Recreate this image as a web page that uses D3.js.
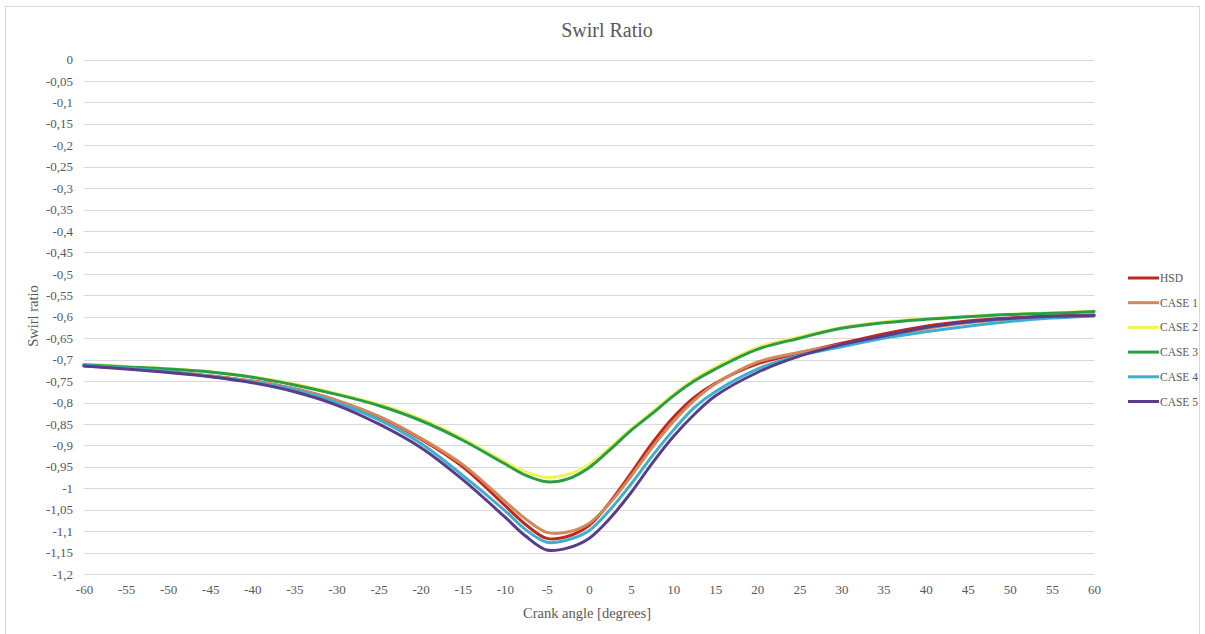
<!DOCTYPE html>
<html>
<head>
<meta charset="utf-8">
<script src="https://cdn.jsdelivr.net/npm/d3@7"></script>
<style>
  html, body { margin: 0; padding: 0; background: #fff; }
  svg { display: block; }
  text { font-family: "Liberation Serif", "DejaVu Serif", serif; fill: #595959; }
</style>
</head>
<body>
<svg id="chart" width="1205" height="634"></svg>
<script>
const angles = [-60,-55,-50,-45,-40,-35,-30,-25,-20,-15,-10,-7.5,-5,-2.5,0,2.5,5,7.5,10,12.5,15,20,25,30,35,40,45,50,55,60];

const seriesNames = ["HSD","CASE 1","CASE 2","CASE 3","CASE 4","CASE 5"];
const seriesColors = ["#c0281e","#d4875a","#f2f25a","#2a9d48","#3eaed0","#5b3c88"];

const hsd   = [-0.714,-0.720,-0.728,-0.738,-0.750,-0.768,-0.795,-0.833,-0.885,-0.950,-1.040,-1.085,-1.117,-1.112,-1.087,-1.032,-0.965,-0.895,-0.835,-0.788,-0.755,-0.710,-0.685,-0.662,-0.640,-0.622,-0.610,-0.603,-0.598,-0.596];
const case1 = [-0.714,-0.720,-0.728,-0.738,-0.750,-0.768,-0.795,-0.832,-0.883,-0.945,-1.030,-1.072,-1.103,-1.102,-1.082,-1.034,-0.972,-0.905,-0.845,-0.795,-0.757,-0.706,-0.683,-0.665,-0.648,-0.628,-0.614,-0.605,-0.600,-0.597];
const case2 = [-0.711,-0.716,-0.721,-0.728,-0.740,-0.757,-0.779,-0.804,-0.838,-0.884,-0.938,-0.962,-0.975,-0.968,-0.945,-0.905,-0.862,-0.822,-0.782,-0.746,-0.718,-0.672,-0.647,-0.625,-0.612,-0.605,-0.599,-0.594,-0.591,-0.587];
const case3 = [-0.712,-0.717,-0.722,-0.729,-0.741,-0.759,-0.781,-0.807,-0.842,-0.888,-0.943,-0.970,-0.985,-0.978,-0.952,-0.910,-0.865,-0.826,-0.785,-0.750,-0.722,-0.676,-0.650,-0.627,-0.614,-0.606,-0.600,-0.595,-0.592,-0.588];
const case4 = [-0.713,-0.720,-0.728,-0.739,-0.752,-0.770,-0.800,-0.840,-0.895,-0.970,-1.052,-1.097,-1.126,-1.120,-1.099,-1.050,-0.990,-0.925,-0.865,-0.812,-0.775,-0.722,-0.690,-0.670,-0.650,-0.635,-0.622,-0.611,-0.603,-0.598];
const case5 = [-0.715,-0.722,-0.730,-0.740,-0.754,-0.775,-0.806,-0.850,-0.905,-0.980,-1.067,-1.112,-1.144,-1.139,-1.117,-1.070,-1.010,-0.942,-0.880,-0.828,-0.785,-0.730,-0.692,-0.665,-0.645,-0.625,-0.612,-0.604,-0.599,-0.597];

const seriesValues = [hsd, case1, case2, case3, case4, case5];

const xTicks = d3.range(-60, 61, 5);
const yTicks = d3.range(0, 25).map(i => -i * 0.05);

const svg = d3.select("#chart");

// outer border
svg.append("rect")
  .attr("x", 5.5).attr("y", 6.5)
  .attr("width", 1194).attr("height", 640)
  .attr("fill", "#fff").attr("stroke", "#d9d9d9").attr("stroke-width", 1);

const x = d3.scaleLinear().domain([-60, 60]).range([84, 1094]);
const y = d3.scaleLinear().domain([0, -1.2]).range([59.5, 574]);

const fmt = v => {
  const r = Math.round(v * 100) / 100;
  return (r === 0 ? "0" : String(r)).replace(".", ",");
};

// gridlines
svg.append("g")
  .selectAll("line")
  .data(yTicks)
  .join("line")
  .attr("x1", x(-60)).attr("x2", x(60))
  .attr("y1", d => Math.round(y(d)) + 0.5)
  .attr("y2", d => Math.round(y(d)) + 0.5)
  .attr("stroke", "#d9d9d9").attr("stroke-width", 1);

// y axis
const yAxis = d3.axisLeft(y).tickValues(yTicks).tickFormat(fmt).tickSize(0).tickPadding(11);
const gy = svg.append("g").attr("transform", `translate(${x(-60)},0)`).call(yAxis);
gy.select(".domain").remove();
gy.selectAll("text").style("font-size", "13px").attr("fill", "#595959")
  .style("font-family", "'Liberation Serif', serif");

// x axis
const xAxis = d3.axisBottom(x).tickValues(xTicks).tickFormat(d => String(d)).tickSize(0).tickPadding(11);
const gx = svg.append("g").attr("transform", `translate(0,${y(-1.2)})`).call(xAxis);
gx.select(".domain").remove();
gx.selectAll("text").style("font-size", "13px").attr("fill", "#595959")
  .style("font-family", "'Liberation Serif', serif");

// lines
const line = d3.line()
  .x((d, i) => x(angles[i]))
  .y(d => y(d))
  .curve(d3.curveCatmullRom.alpha(0.5));

svg.append("g")
  .selectAll("path")
  .data(seriesValues)
  .join("path")
  .attr("d", d => line(d))
  .attr("fill", "none")
  .attr("stroke", (d, i) => seriesColors[i])
  .attr("stroke-width", 3)
  .attr("stroke-linejoin", "round")
  .attr("stroke-linecap", "round");

// title
svg.append("text")
  .attr("x", 607).attr("y", 37)
  .attr("text-anchor", "middle")
  .style("font-size", "20px")
  .text("Swirl Ratio");

// axis titles
svg.append("text")
  .attr("x", 587).attr("y", 618)
  .attr("text-anchor", "middle")
  .style("font-size", "14.5px")
  .text("Crank angle [degrees]");

svg.append("text")
  .attr("transform", "translate(38,316) rotate(-90)")
  .attr("text-anchor", "middle")
  .style("font-size", "14.5px")
  .text("Swirl ratio");

// legend
const legend = svg.append("g")
  .selectAll("g")
  .data(seriesNames)
  .join("g")
  .attr("transform", (d, i) => `translate(1128,${278 + i * 24.7})`);

legend.append("line")
  .attr("x1", 0).attr("x2", 31)
  .attr("y1", 0).attr("y2", 0)
  .attr("stroke", (d, i) => seriesColors[i])
  .attr("stroke-width", 3);

legend.append("text")
  .attr("x", 32).attr("y", 4)
  .style("font-size", "11.5px")
  .text(d => d);
</script>
</body>
</html>
